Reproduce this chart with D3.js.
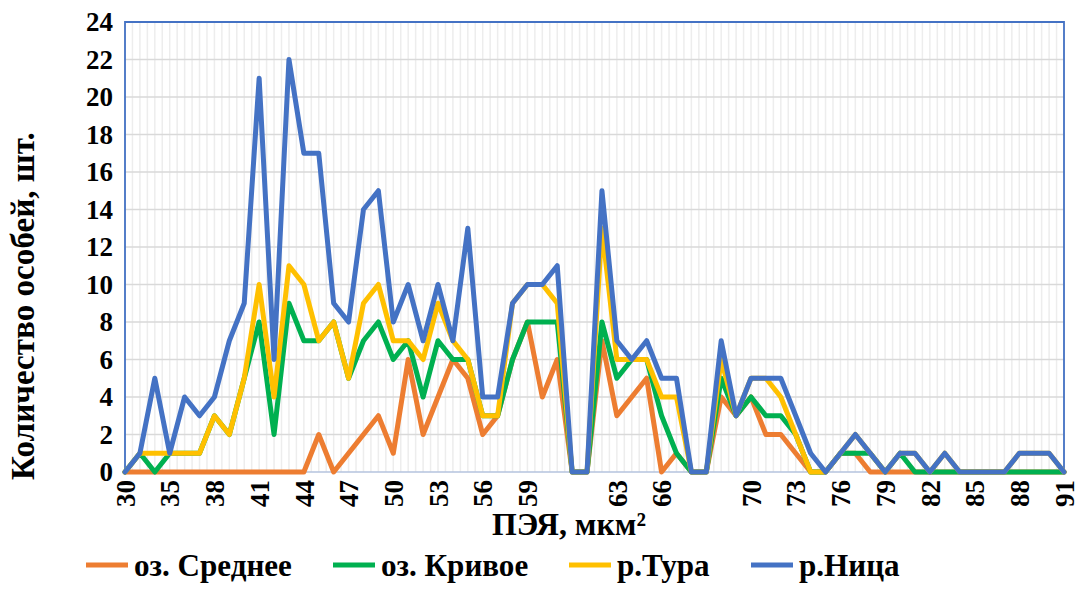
<!DOCTYPE html>
<html><head><meta charset="utf-8">
<script src="https://cdn.jsdelivr.net/npm/d3@7"></script>
<style>body{margin:0;background:#fff}svg{display:block}</style>
</head><body>
<svg id="c" width="1078" height="609"></svg>
<script>
const categories = ["30","33","34","35","36","37","38","39","40","41","42","43","44","45","46","47","48","49","50","51","52","53","54","55","56","57","58","59","60","61","","","62","63","64","65","66","67","","","68","69","70","71","72","73","74","75","76","77","78","79","80","81","82","83","84","85","86","87","88","89","90","91"];
const yTicks = [0,2,4,6,8,10,12,14,16,18,20,22,24];
const seriesNames = ["оз. Среднее","оз. Кривое","р.Тура","р.Ница"];
const seriesColors = ["#ED7D31","#00B050","#FFC000","#4472C4"];
const sredneeValues = [0,0,0,0,0,0,0,0,0,0, 0,0,0,2,0,1,2,3,1,6, 2,4,6,5,2,3,6,8,4,6, 0,0,7,3,4,5,0,1,0,0, 4,3,4,2,2,1,0,0,1,1, 0,0,0,0,0,0,0,0,0,0, 0,0,0,0];
const krivoeValues  = [0,1,0,1,1,1,3,2,5,8, 2,9,7,7,8,5,7,8,6,7, 4,7,6,6,3,3,6,8,8,8, 0,0,8,5,6,6,3,1,0,0, 5,3,4,3,3,2,0,0,1,1, 1,0,1,0,0,0,0,0,0,0, 0,0,0,0];
const turaValues    = [0,1,1,1,1,1,3,2,5,10, 4,11,10,7,8,5,9,10,7,7, 6,9,7,6,3,3,9,10,10,9, 0,0,13,6,6,6,4,4,0,0, 6,3,5,5,4,2,0,0,1,2, 1,0,1,1,0,1,0,0,0,0, 1,1,1,0];
const nitsaValues   = [0,1,5,1,4,3,4,7,9,21, 6,22,17,17,9,8,14,15,8,10, 7,10,7,13,4,4,9,10,10,11, 0,0,15,7,6,7,5,5,0,0, 7,3,5,5,5,3,1,0,1,2, 1,0,1,1,0,1,0,0,0,0, 1,1,1,0];
const allSeries = [sredneeValues, krivoeValues, turaValues, nitsaValues];

const ctx = document.createElement("canvas").getContext("2d");
const probe = "оз. Среднее Количество 0123456789 ПЭЯ";
function w(font) { ctx.font = font; return ctx.measureText(probe).width; }
function installed(f) {
  return w(`bold 40px monospace`) !== w(`bold 40px '${f}', monospace`) ||
         w(`bold 40px sans-serif`) !== w(`bold 40px '${f}', sans-serif`);
}
const candidates = ["Liberation Serif","Times New Roman","DejaVu Serif","Noto Serif","Tinos","FreeSerif","Liberation Sans Narrow","Liberation Sans"];
const FONT = "'" + (candidates.find(installed) || "Liberation Sans") + "'";
function sizeFor(str, target) { ctx.font = `bold 100px ${FONT}`; return 100 * target / ctx.measureText(str).width; }

const tickSize = sizeFor("24", 27);
const xTitleSize = sizeFor("ПЭЯ, мкм²", 154);
const yTitleSize = sizeFor("Количество особей, шт.", 348);
const legSize = sizeFor("оз. Среднее", 158);

const svg = d3.select("#c");
const L = 125, R = 1064, T = 22, B = 472;
const idx = d3.range(categories.length);
const x = d3.scalePoint().domain(idx).range([L, R]);
const y = d3.scaleLinear().domain([0, 24]).range([B, T]);
const step = x.step();

const g = svg.append("g");
for (let k = 0; k <= (categories.length - 1) * 2; k++) {
  const xx = L + k * step / 2;
  g.append("line").attr("x1", xx).attr("x2", xx).attr("y1", T).attr("y2", B)
    .attr("stroke", "#EDEDED").attr("stroke-width", 1.5);
}
g.selectAll(".hg").data(yTicks.filter(d => d > 0 && d < 24)).enter().append("line")
  .attr("x1", L).attr("x2", R).attr("y1", d => y(d)).attr("y2", d => y(d))
  .attr("stroke", "#D9D9D9").attr("stroke-width", 1.5);

svg.append("line").attr("x1", L).attr("x2", R).attr("y1", B).attr("y2", B)
  .attr("stroke", "#B4C3DE").attr("stroke-width", 1.5);

svg.append("path").attr("d", `M${L},${B}V${T}H${R}V${B}`).attr("fill", "none")
  .attr("stroke", "#4472C4").attr("stroke-width", 1.8);

const line = d3.line().x((d, i) => x(i)).y(d => y(d)).curve(d3.curveLinear);
allSeries.forEach((s, k) => {
  svg.append("path").datum(s).attr("d", line).attr("fill", "none")
    .attr("stroke", seriesColors[k]).attr("stroke-width", 5)
    .attr("stroke-linejoin", "round").attr("stroke-linecap", "round");
});

function T_(sel, size) { return sel.attr("font-family", FONT).attr("font-weight", "bold").attr("fill", "#000").attr("font-size", size); }

T_(svg.selectAll(".yl").data(yTicks).enter().append("text"), tickSize)
  .attr("x", 113).attr("y", d => y(d)).attr("dy", "0.35em")
  .attr("text-anchor", "end").text(d => d);

idx.filter(i => i % 3 === 0).forEach(i => {
  T_(svg.append("text"), tickSize).attr("transform", `translate(${x(i) + tickSize * 0.36},${480}) rotate(-90)`)
    .attr("text-anchor", "end").text(categories[i]);
});

T_(svg.append("text"), xTitleSize).attr("x", 569).attr("y", 524).attr("dy", "0.35em").attr("text-anchor", "middle")
  .text("ПЭЯ, мкм²");
T_(svg.append("text"), yTitleSize).attr("transform", "translate(22,306) rotate(-90)").attr("dy", "0.35em")
  .attr("text-anchor", "middle").text("Количество особей, шт.");

const legLine = [86, 333, 569, 751];
const legText = [134, 381, 617, 799];
seriesNames.forEach((n, k) => {
  svg.append("line").attr("x1", legLine[k]).attr("x2", legLine[k] + 42).attr("y1", 565).attr("y2", 565)
    .attr("stroke", seriesColors[k]).attr("stroke-width", 5);
  T_(svg.append("text"), legSize).attr("x", legText[k]).attr("y", 565).attr("dy", "0.35em").text(n);
});
</script>
</body></html>
